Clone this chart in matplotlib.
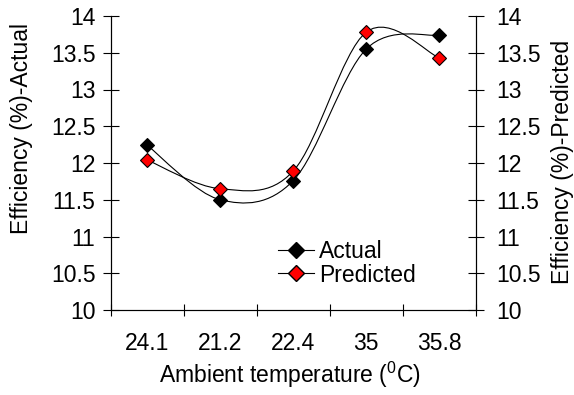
import numpy as np
import matplotlib.pyplot as plt
from matplotlib.path import Path
from matplotlib.patches import PathPatch
from matplotlib.lines import Line2D

plt.rcParams['font.family'] = ['Liberation Sans', 'DejaVu Sans']

# data
temps = ['24.1', '21.2', '22.4', '35', '35.8']
actual = [12.24, 11.50, 11.76, 13.55, 13.74]
predicted = [12.04, 11.65, 11.89, 13.78, 13.43]
yticks = ['10', '10.5', '11', '11.5', '12', '12.5', '13', '13.5', '14']

FS = 16.5


def smooth_path(xs, ys):
    # Excel-style smoothed line: cubic Bezier through the points
    pts = np.column_stack([xs, ys])
    n = len(pts)
    verts = [pts[0]]
    codes = [Path.MOVETO]
    for i in range(n - 1):
        p0 = pts[i - 1] if i > 0 else pts[i]
        p1 = pts[i]
        p2 = pts[i + 1]
        p3 = pts[i + 2] if i + 2 < n else pts[i + 1]
        c1 = p1 + (p2 - p0) / 6.0
        c2 = p2 - (p3 - p1) / 6.0
        verts += [c1, c2, p2]
        codes += [Path.CURVE4] * 3
    return Path(verts, codes)


fig = plt.figure(figsize=(5.74, 3.95), dpi=100)
ax = fig.add_axes([110.7 / 574, 1 - 310 / 395, (475.7 - 110.7) / 574, (310 - 16) / 395])

x = np.arange(len(temps)) + 0.5
for vals in (actual, predicted):
    ax.add_patch(PathPatch(smooth_path(x, vals), fill=False, edgecolor='black', lw=0.8, zorder=2))

ax.plot(x, actual, ls='none', marker='D', ms=7.5, mfc='black', mec='black', mew=0.8, zorder=3)
ax.plot(x, predicted, ls='none', marker='D', ms=7.5, mfc='red', mec='black', mew=0.8, zorder=3)

ax.set_xlim(0, len(temps))
ax.set_ylim(10, 14)
ax.set_yticks(np.arange(10, 14.01, 0.5))
ax.set_yticklabels(yticks)
ax.set_xticks(np.arange(0, len(temps) + 1))
ax.set_xticklabels([])
ax.set_xticks(x, minor=True)
ax.set_xticklabels(temps, minor=True)
ax.tick_params(axis='x', which='major', direction='inout', length=8.6, width=0.8)
ax.tick_params(axis='x', which='minor', length=0, pad=15.5, labelsize=FS)
ax.tick_params(axis='y', direction='inout', length=11, width=0.8, labelsize=FS, pad=5.5)

ax.spines['top'].set_visible(False)
for s in ('left', 'right', 'bottom'):
    ax.spines[s].set_linewidth(0.8)
ax.spines['bottom'].set_color('#444444')

ax2 = ax.twinx()
ax2.set_ylim(10, 14)
ax2.set_yticks(np.arange(10, 14.01, 0.5))
ax2.set_yticklabels(yticks)
ax2.tick_params(axis='y', direction='inout', length=11, width=0.8, labelsize=FS, pad=9)
ax2.spines['top'].set_visible(False)
ax2.spines['right'].set_linewidth(0.8)

fig.text(290 / 574, 1 - 383 / 395, 'Ambient temperature ($\\mathregular{^{0}}$C)',
         fontsize=FS, ha='center', va='baseline')
fig.text(22 / 574, 1 - 128 / 395, 'Efficiency (%)-Actual', fontsize=FS,
         rotation=90, ha='center', va='center')
fig.text(562 / 574, 1 - 162 / 395, 'Efficiency (%)-Predicted', fontsize=FS,
         rotation=90, ha='center', va='center')

handles = [
    Line2D([], [], color='black', lw=0.8, marker='D', ms=8.5, mfc='black', mec='black'),
    Line2D([], [], color='black', lw=0.8, marker='D', ms=8.5, mfc='red', mec='black'),
]
ax.legend(handles, ['Actual', 'Predicted'], loc='center left',
          bbox_to_anchor=(278 / 574, 1 - 263.5 / 395), bbox_transform=fig.transFigure,
          frameon=False, fontsize=FS, handlelength=1.55, handletextpad=0.25,
          labelspacing=0.0, borderpad=0, borderaxespad=0)

fig.savefig('out.png', dpi=100)
